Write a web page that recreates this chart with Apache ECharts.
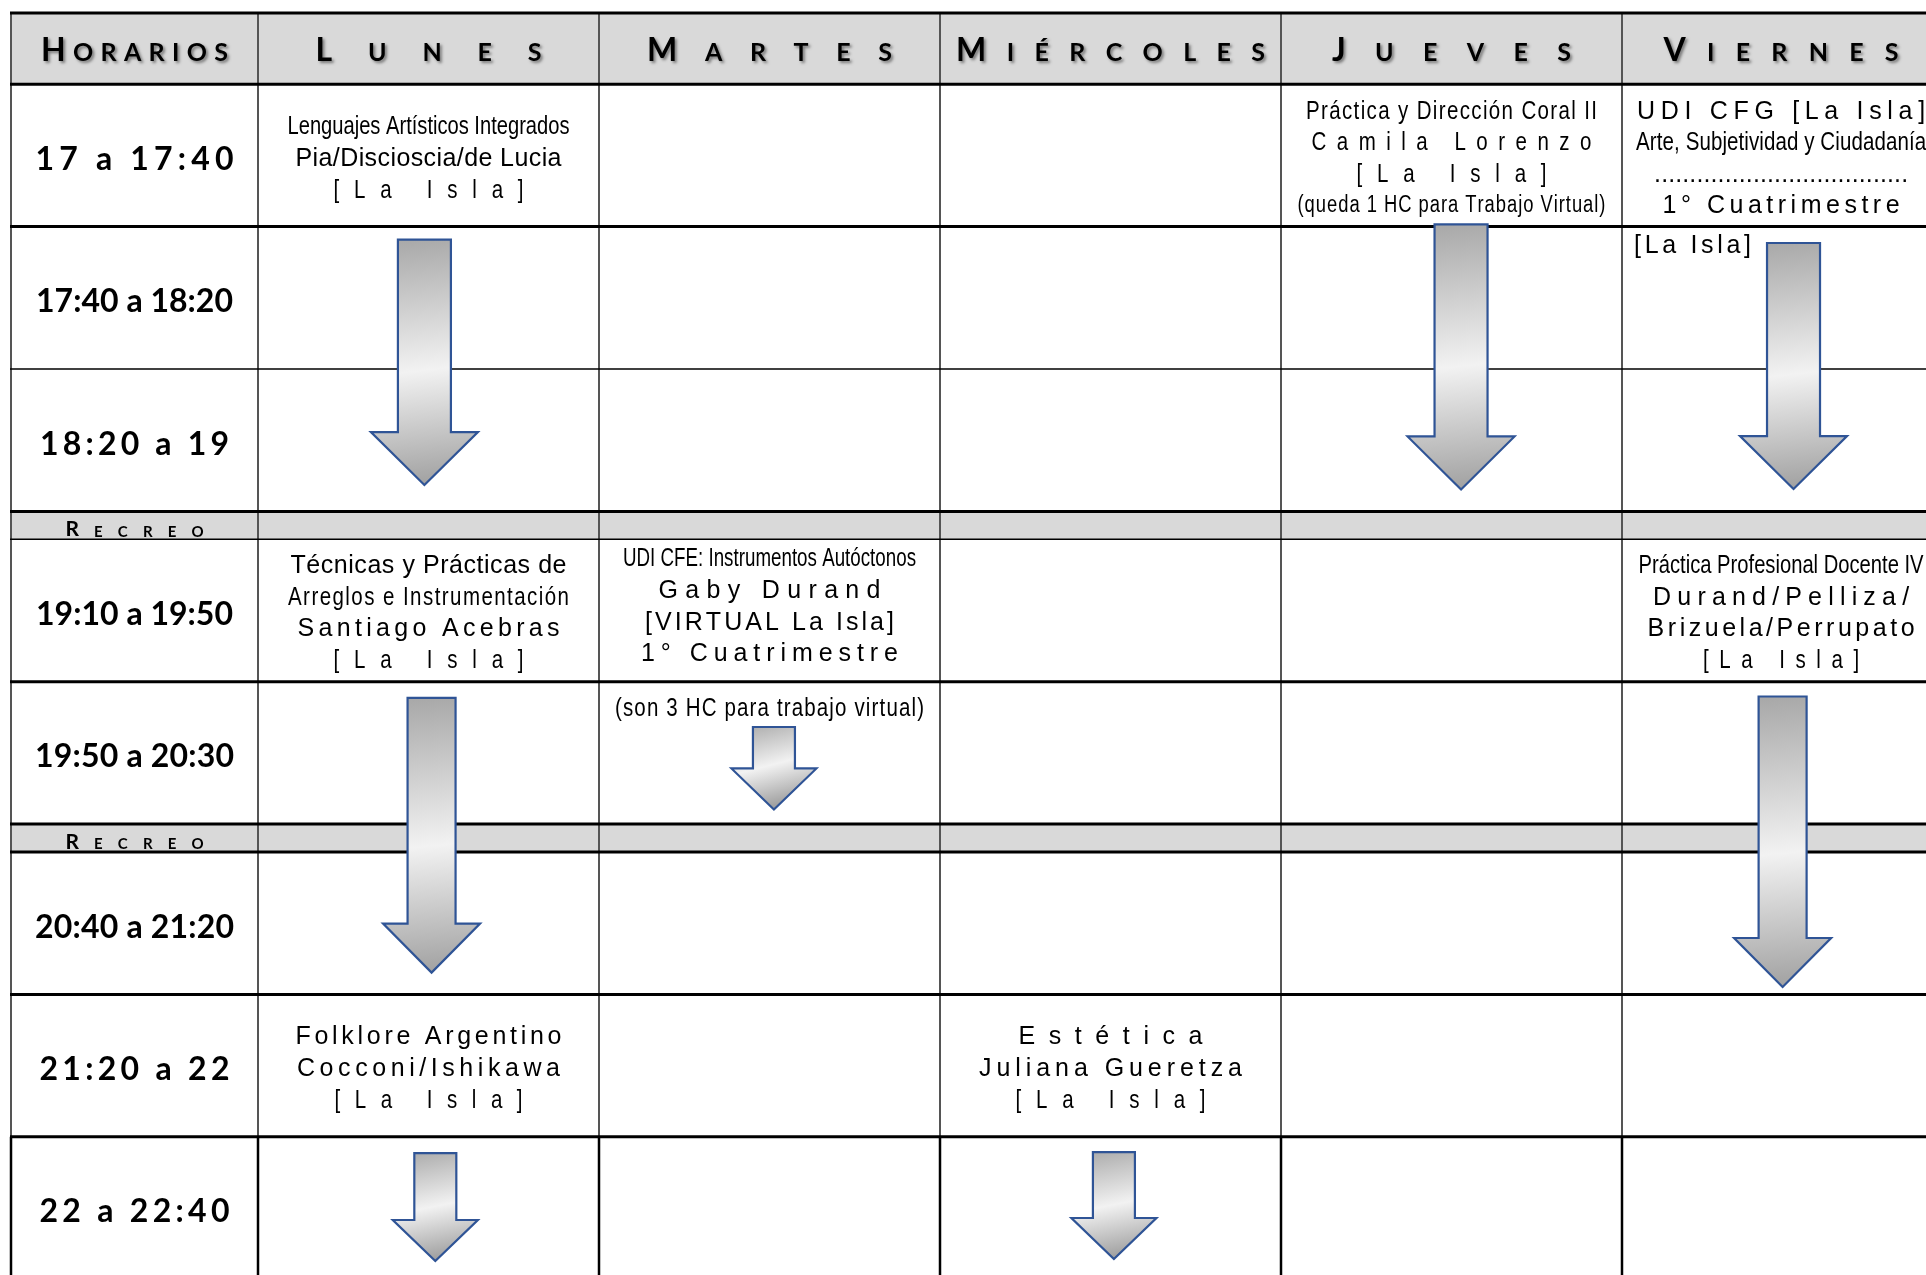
<!DOCTYPE html>
<html><head><meta charset="utf-8">
<script src="https://cdn.jsdelivr.net/npm/echarts@6/dist/echarts.min.js"></script>
<style>html,body{margin:0;padding:0;background:#fff;}#c{width:1926px;height:1275px;}</style>
</head><body><div id="c"></div>
<script>
// ================= DATA =================
const headerTitle = 'Horarios';
const days = ['Lunes', 'Martes', 'Miércoles', 'Jueves', 'Viernes'];
const slots = ['17 a 17:40', '17:40 a 18:20', '18:20 a 19', 'Recreo', '19:10 a 19:50', '19:50 a 20:30', 'Recreo', '20:40 a 21:20', '21:20 a 22', '22 a 22:40'];
const classes = [
  { day: 'Lunes', slot: '17 a 17:40', lines: ['Lenguajes Artísticos Integrados', 'Pia/Discioscia/de Lucia', '[La Isla]'] },
  { day: 'Jueves', slot: '17 a 17:40', lines: ['Práctica y Dirección Coral II', 'Camila Lorenzo', '[La Isla]', '(queda 1 HC para Trabajo Virtual)'] },
  { day: 'Viernes', slot: '17 a 17:40', lines: ['UDI CFG [La Isla]', 'Arte, Subjetividad y Ciudadanía', '....................................', '1° Cuatrimestre'] },
  { day: 'Viernes', slot: '17:40 a 18:20', lines: ['[La Isla]'] },
  { day: 'Lunes', slot: '19:10 a 19:50', lines: ['Técnicas y Prácticas de', 'Arreglos e Instrumentación', 'Santiago Acebras', '[La Isla]'] },
  { day: 'Martes', slot: '19:10 a 19:50', lines: ['UDI CFE: Instrumentos Autóctonos', 'Gaby Durand', '[VIRTUAL La Isla]', '1° Cuatrimestre'] },
  { day: 'Viernes', slot: '19:10 a 19:50', lines: ['Práctica Profesional Docente IV', 'Durand/Pelliza/', 'Brizuela/Perrupato', '[La Isla]'] },
  { day: 'Martes', slot: '19:50 a 20:30', lines: ['(son 3 HC para trabajo virtual)'] },
  { day: 'Lunes', slot: '21:20 a 22', lines: ['Folklore Argentino', 'Cocconi/Ishikawa', '[La Isla]'] },
  { day: 'Miércoles', slot: '21:20 a 22', lines: ['Estética', 'Juliana Gueretza', '[La Isla]'] }
];
// continuation arrows (x in column units, from/to in row units)
const arrows = [
  { day: 'Lunes', x: 0.488, from: 1.591, to: 3.315, size: 'L' },
  { day: 'Jueves', x: 3.528, from: 1.485, to: 3.346, size: 'L' },
  { day: 'Viernes', x: 4.503, from: 1.615, to: 3.343, size: 'L' },
  { day: 'Lunes', x: 0.509, from: 4.810, to: 6.739, size: 'M' },
  { day: 'Viernes', x: 4.471, from: 4.800, to: 6.840, size: 'M' },
  { day: 'Martes', x: 1.513, from: 5.014, to: 5.593, size: 'S' },
  { day: 'Lunes', x: 0.520, from: 8.006, to: 8.764, size: 'S' },
  { day: 'Miércoles', x: 2.510, from: 7.999, to: 8.750, size: 'S' }
];

// ================= LAYOUT / STYLE =================
const X0 = -247 / 341;
const colEdges = [X0, 0, 1, 2, 3, 4, 4.933];
const X_MAX = X0 + (1926 - 11) / 341;
const Y_MAX = (1275 - 13) / 142.4;
const RECREO_H = 0.196;
const rowEdges = [0, 0.5];
slots.forEach(s => rowEdges.push(rowEdges[rowEdges.length - 1] + (s === 'Recreo' ? RECREO_H : 1)));
const thinRows = [3, 5];

const headerWidths = { Horarios: 187, Lunes: 226, Martes: 245, 'Miércoles': 309, Jueves: 239, Viernes: 235 };
const slotWidths = { '17 a 17:40': 198, '17:40 a 18:20': 197, '18:20 a 19': 189, '19:10 a 19:50': 197, '19:50 a 20:30': 199, '20:40 a 21:20': 199, '21:20 a 22': 190, '22 a 22:40': 190, 'Recreo': 138 };
const CELL_SIZE = 25;
const classLayout = {
  'Lunes|17 a 17:40': { dy: 4, lh: 32, w: [282, 266, 190], sx: [.82, 1, .82] },
  'Jueves|17 a 17:40': { dy: 3.5, lh: 31.5, w: [291, 280, 190, 308], sx: [.82, .82, .82, .8], size: [25, 25, 25, 23] },
  'Viernes|17 a 17:40': { dy: 3.5, lh: 31.5, w: [288, 290, 254, 237], sx: [1, .82, 1, 1] },
  'Viernes|17:40 a 18:20': { dy: -52, lh: 32, w: [117], sx: [1], align: 'left', left: 12 },
  'Lunes|19:10 a 19:50': { dy: 3, lh: 31.7, w: [276, 281, 262, 190], sx: [1, .82, 1, .82] },
  'Martes|19:10 a 19:50': { dy: -3.5, lh: 31.7, w: [293, 222, 249, 257], sx: [.75, 1, 1, 1] },
  'Viernes|19:10 a 19:50': { dy: 3, lh: 31.7, w: [285, 256, 267, 156], sx: [.82, 1, 1, .82] },
  'Martes|19:50 a 20:30': { dy: -44, lh: 32, w: [309], sx: [.82] },
  'Lunes|21:20 a 22': { dy: 3, lh: 32, w: [266, 263, 188], sx: [1, 1, .82] },
  'Miércoles|21:20 a 22': { dy: 3, lh: 32, w: [184, 263, 190], sx: [1, 1, .82] }
};
const arrowStyle = { L: { shaft: 53, head: 107, headLen: 53 }, M: { shaft: 48, head: 97, headLen: 49 }, S: { shaft: 42, head: 85, headLen: 41 } };
const BOLD = { family: 'Lato', weight: 700, k: 0.387 };
const CELL = { family: '"Liberation Sans", Arial, sans-serif', weight: 400, k: 0.3465 };

// ================= TEXT ENGINE =================
const mctx = document.createElement('canvas').getContext('2d');
function fstr(w, s, f) { return w + ' ' + s + 'px ' + f; }
function smallCaps(word, big, small) {
  return [{ t: word[0].toUpperCase(), size: big }, { t: word.slice(1).toUpperCase(), size: small }];
}
function buildLine(line, cx, cy, align) {
  const chars = [];
  line.segs.forEach(sg => { for (const ch of sg.t) chars.push({ ch, size: sg.size }); });
  let sx = line.sx || 1;
  const maxSize = Math.max.apply(null, chars.map(c => c.size));
  let widths = chars.map(c => { mctx.font = fstr(line.weight, c.size, line.family); return mctx.measureText(c.ch).width * sx; });
  let nat = widths.reduce((a, b) => a + b, 0);
  let ls = 0;
  if (line.w) {
    if (nat > line.w) { const f = line.w / nat; sx *= f; widths = widths.map(v => v * f); nat = line.w; }
    else if (chars.length > 1) ls = (line.w - nat) / (chars.length - 1);
  }
  const total = nat + ls * (chars.length - 1);
  let x = align === 'left' ? cx : cx - total / 2;
  const base = cy + line.k * maxSize;
  const els = [];
  chars.forEach((c, i) => {
    if (c.ch !== ' ') {
      const st = { text: c.ch, fontSize: c.size, fontFamily: line.family, fontWeight: line.weight, fill: '#000', align: 'left', verticalAlign: 'middle' };
      if (line.shadow) { st.textShadowColor = 'rgba(0,0,0,0.45)'; st.textShadowBlur = 3; st.textShadowOffsetX = 2; st.textShadowOffsetY = 2; }
      els.push({ type: 'text', x: x, y: base - line.k * c.size, scaleX: sx, silent: true, style: st });
    }
    x += widths[i] + ls;
  });
  return els;
}

// ================= TEXT BLOCKS =================
const blocks = [];
const colCenter = d => (colEdges[d] + colEdges[d + 1]) / 2;
const rowCenter = r => (rowEdges[r] + rowEdges[r + 1]) / 2;
blocks.push({ cx: colCenter(0), cy: rowCenter(0), dy: 2, lh: 0, lines: [Object.assign({ segs: smallCaps(headerTitle, 32, 25), w: headerWidths[headerTitle], shadow: true }, BOLD)] });
days.forEach((d, i) => blocks.push({ cx: colCenter(i + 1), cy: rowCenter(0), dy: 2, lh: 0, lines: [Object.assign({ segs: smallCaps(d, 32, 25), w: headerWidths[d], shadow: true }, BOLD)] }));
slots.forEach((s, r) => {
  if (s === 'Recreo') blocks.push({ cx: colCenter(0), cy: rowCenter(r + 1), dy: 4, lh: 0, lines: [Object.assign({ segs: smallCaps(s, 21, 15), w: slotWidths[s] }, BOLD)] });
  else blocks.push({ cx: colCenter(0), cy: rowCenter(r + 1), dy: 4, lh: 0, lines: [Object.assign({ segs: [{ t: s, size: 32 }], w: slotWidths[s] }, BOLD)] });
});
classes.forEach(c => {
  const d = days.indexOf(c.day) + 1, r = slots.indexOf(c.slot) + 1;
  const L = classLayout[c.day + '|' + c.slot];
  blocks.push({
    cx: colCenter(d), cy: rowCenter(r), colLeft: colEdges[d], dy: L.dy, lh: L.lh, align: L.align, left: L.left,
    lines: c.lines.map((t, i) => Object.assign({ segs: [{ t, size: (L.size ? L.size[i] : CELL_SIZE) }], w: L.w[i], sx: L.sx[i] }, CELL))
  });
});

// ================= BANDS & GRID =================
const bands = [[0, 0.5]];
slots.forEach((s, r) => { if (s === 'Recreo') bands.push([rowEdges[r + 1], rowEdges[r + 2]]); });
const vsegs = [];
colEdges.forEach((x, ci) => { for (let r = 0; r < rowEdges.length - 1; r++) vsegs.push([x, r]); });

const chart = echarts.init(document.getElementById('c'), null, { renderer: 'canvas' });
chart.setOption({
  animation: false,
  backgroundColor: '#fff',
  grid: { left: 11, right: 0, top: 13, bottom: 0 },
  xAxis: { type: 'value', min: X0, max: X_MAX, show: false },
  yAxis: { type: 'value', min: 0, max: Y_MAX, inverse: true, show: false },
  series: [
    {
      type: 'custom', z: 1, clip: false, silent: true,
      data: bands.map(b => [X0, b[0], b[1]]),
      renderItem: (p, api) => {
        const a = api.coord([api.value(0), api.value(1)]), b = api.coord([colEdges[colEdges.length - 1], api.value(2)]);
        return { type: 'rect', shape: { x: a[0], y: a[1], width: b[0] - a[0], height: b[1] - a[1] }, style: { fill: '#d9d9d9' } };
      }
    },
    {
      type: 'custom', z: 2, clip: false, silent: true,
      data: vsegs,
      renderItem: (p, api) => {
        const x = api.value(0), r = api.value(1);
        const a = api.coord([x, rowEdges[r]]), b = api.coord([x, rowEdges[r + 1]]);
        const last = r === rowEdges.length - 2;
        return { type: 'line', shape: { x1: a[0], y1: a[1], x2: b[0], y2: b[1] }, style: { stroke: last ? '#000' : '#555', lineWidth: last ? 2.5 : 2 } };
      }
    },
    {
      type: 'custom', z: 3, clip: false, silent: true,
      data: rowEdges.map((y, i) => [X0, y, i]),
      renderItem: (p, api) => {
        const y = api.value(1), i = api.value(2);
        const a = api.coord([X0, y]), b = api.coord([colEdges[colEdges.length - 1], y]);
        const thin = thinRows.indexOf(i) >= 0;
        return { type: 'line', shape: { x1: a[0] - 1, y1: a[1], x2: b[0], y2: b[1] }, style: { stroke: '#000', lineWidth: thin ? 1.6 : 3 } };
      }
    },
    {
      type: 'custom', z: 4, clip: false, silent: true,
      data: arrows.map((a, i) => [a.x, a.from, a.to, i]),
      renderItem: (p, api) => {
        const st = arrowStyle[arrows[api.value(3)].size];
        const top = api.coord([api.value(0), api.value(1)]);
        const tip = api.coord([api.value(0), api.value(2)]);
        const cx = top[0], sh = tip[1] - st.headLen, s2 = st.shaft / 2, h2 = st.head / 2;
        return {
          type: 'polygon',
          shape: { points: [[cx - s2, top[1]], [cx + s2, top[1]], [cx + s2, sh], [cx + h2, sh], [cx, tip[1]], [cx - h2, sh], [cx - s2, sh]] },
          style: {
            fill: { type: 'linear', x: 0, y: 0, x2: 0.25, y2: 1, colorStops: [{ offset: 0, color: '#a6a6a6' }, { offset: 0.55, color: '#f2f2f2' }, { offset: 1, color: '#a2a2a2' }] },
            stroke: '#2f5496', lineWidth: 2.2, lineJoin: 'miter'
          }
        };
      }
    },
    {
      type: 'custom', z: 5, clip: false, silent: true,
      data: blocks.map((b, i) => [b.cx, b.cy, i]),
      renderItem: (p, api) => {
        const b = blocks[api.value(2)];
        const c = api.coord([api.value(0), api.value(1)]);
        let cx = c[0];
        if (b.align === 'left') cx = api.coord([b.colLeft, api.value(1)])[0] + b.left;
        const n = b.lines.length;
        let children = [];
        b.lines.forEach((ln, i) => {
          const cy = c[1] + b.dy + (i - (n - 1) / 2) * b.lh;
          children = children.concat(buildLine(ln, cx, cy, b.align));
        });
        return { type: 'group', children };
      }
    }
  ]
});
</script></body></html>
